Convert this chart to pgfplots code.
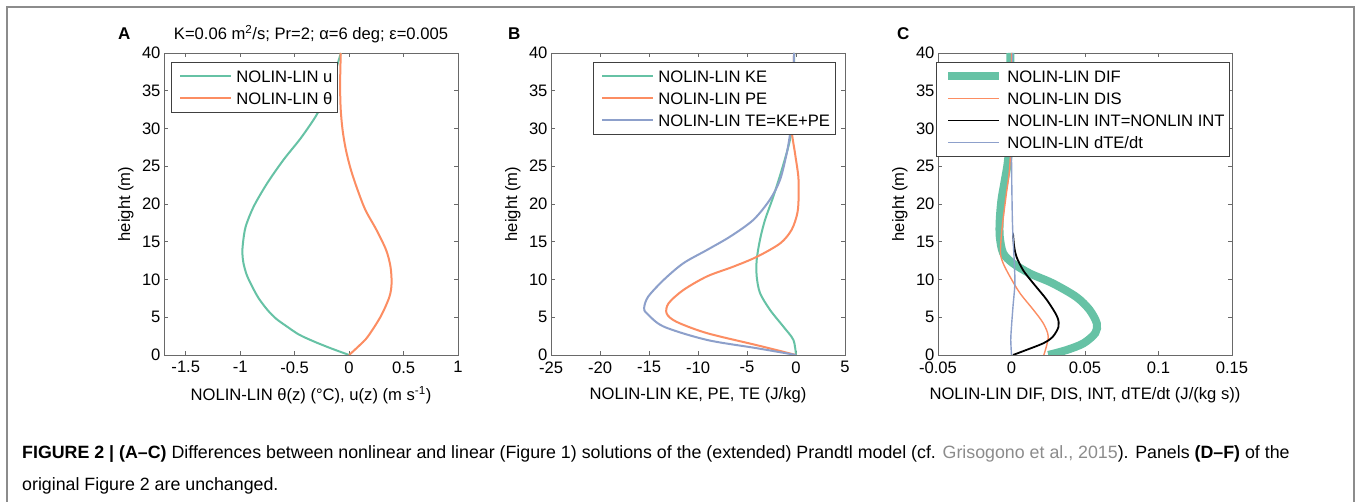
\documentclass[border=0pt]{standalone}
\usepackage{fontspec}
\setmainfont{Liberation Sans}
\usepackage{pgfplots}
\pgfplotsset{compat=1.18}
\definecolor{cgreen}{RGB}{102,194,165}
\definecolor{corange}{RGB}{252,141,98}
\definecolor{cblue}{RGB}{141,160,203}
\definecolor{boxgray}{RGB}{105,105,105}
\newcommand{\fs}{\fontsize{16.6}{19.5}\selectfont}
\pgfplotsset{
  mstyle/.style={
    scale only axis, width=294pt, height=302pt,
    ymin=0, ymax=40, ytick={0,5,...,40},
    yticklabels={0,5,10,15,20,25,30,35,40},
    tick align=inside, major tick length=4pt,
    axis line style={boxgray, line width=0.8pt},
    tick style={boxgray, line width=0.6pt},
    ticklabel style={font=\fs},
    xticklabel style={yshift=-3pt},
    every axis y label/.style={at={(axis description cs:-0.13,0.5)}, rotate=90, anchor=center, font=\fs},
    every axis x label/.style={at={(axis description cs:0.5,-0.132)}, anchor=center, font=\fs},
    every axis title/.style={at={(axis description cs:0.5,1)}, anchor=base, yshift=13pt, font=\fs},
    ylabel={height (m)},
    legend cell align=left,
    legend style={draw=black!75, line width=0.8pt, fill=white, font=\fs,
      anchor=north west, inner xsep=3pt, inner ysep=3pt, row sep=0pt,
      nodes={inner sep=2pt, text height=15pt, text depth=3pt},
      /tikz/every odd column/.append style={column sep=0pt}},
    legend image code/.code={\path (0pt,0pt); \draw[#1] (5pt,0pt) -- (56pt,0pt); \path (58pt,0pt);},
    every axis plot/.append style={smooth, tension=0.5},
  }
}
\begin{document}
\begin{tikzpicture}
\useasboundingbox (0pt,0pt) rectangle (1357pt,502pt);
\fill[white] (0pt,0pt) rectangle (1357pt,502pt);
\draw[black!45, line width=1.5pt] (7pt,0pt) -- (7pt,495pt) -- (1354pt,495pt) -- (1354pt,0pt);

% Panel A
\begin{axis}[mstyle, at={(164pt,147pt)}, anchor=south west,
  xmin=-1.7, xmax=1, xtick={-1.5,-1,-0.5,0,0.5,1},
  xticklabels={-1.5,-1,-0.5,0,0.5,1},
  xlabel={NOLIN-LIN θ(z) (°C), u(z) (m s\textsuperscript{-1})},
  title={K=0.06 m\textsuperscript{2}/s; Pr=2; α=6 deg; ε=0.005},
  legend style={at={(0.024,0.970)}}]
\addplot[cgreen, line width=2pt] coordinates {
(0,0) (-0.17,0.9) (-0.32,1.77) (-0.46,2.7) (-0.57,3.76) (-0.67,4.8) (-0.75,5.97)
(-0.83,7.5) (-0.89,9.06) (-0.94,10.6) (-0.97,12.15) (-0.98,13.5) (-0.975,14.8)
(-0.95,17.0) (-0.875,19.7) (-0.75,22.8) (-0.6,25.9) (-0.445,28.7) (-0.307,31.6)
(-0.22,34) (-0.15,36.5) (-0.09,39.3) (-0.075,40)};
\addlegendentry{NOLIN-LIN u}
\addplot[corange, line width=2pt] coordinates {
(0,0) (0.09,1.2) (0.17,2.4) (0.29,5.1) (0.37,7.7) (0.39,9.5) (0.38,11.7)
(0.34,13.9) (0.25,16.6) (0.15,19.2) (0.077,21.9) (0.015,24.6) (-0.03,27.2)
(-0.06,29.8) (-0.077,32.5) (-0.083,35.6) (-0.08,38) (-0.077,40)};
\addlegendentry{NOLIN-LIN θ}
\end{axis}

% Panel B
\begin{axis}[mstyle, at={(551pt,147pt)}, anchor=south west,
  xmin=-25, xmax=5, xtick={-25,-20,...,5},
  xticklabels={-25,-20,-15,-10,-5,0,5},
  xlabel={NOLIN-LIN KE, PE, TE (J/kg)},
  legend style={at={(0.143,0.970)}}]
\addplot[cgreen, line width=2pt] coordinates {
(0,0) (-0.27,2.0) (-1.29,3.76) (-2.65,5.97) (-3.67,8.2) (-4.01,10.4) (-4.01,12.6)
(-3.67,15.3) (-3.16,17.9) (-2.31,21.0) (-1.46,24.5) (-0.78,27.6) (-0.44,29.8)
(-0.3,33) (-0.22,37) (-0.2,40)};
\addlegendentry{NOLIN-LIN KE}
\addplot[corange, line width=2pt] coordinates {
(0,0) (-4.0,1.3) (-9.1,2.9) (-12.2,4.4) (-13.2,5.5) (-13.0,6.85) (-11.5,8.6)
(-9.1,10.4) (-6.4,11.7) (-4.0,13.0) (-1.6,14.8) (-0.44,16.6) (0.14,18.8)
(0.27,21.0) (0.24,23.6) (-0.1,26.7) (-0.44,29.8) (-0.35,33) (-0.25,37) (-0.2,40)};
\addlegendentry{NOLIN-LIN PE}
\addplot[cblue, line width=2pt] coordinates {
(0,0) (-4.0,0.9) (-9.1,2.0) (-13.5,3.76) (-15.2,5.5) (-15.5,6.2) (-15.1,7.7)
(-13.5,9.95) (-11.5,12.15) (-9.1,13.9) (-6.7,15.7) (-4.35,17.9) (-2.65,20.6)
(-1.63,23.2) (-0.95,26.7) (-0.6,29.4) (-0.35,33) (-0.25,37) (-0.2,40)};
\addlegendentry{NOLIN-LIN TE=KE+PE}
\end{axis}

% Panel C
\begin{axis}[mstyle, at={(938pt,147pt)}, anchor=south west,
  xmin=-0.05, xmax=0.15, xtick={-0.05,0,0.05,0.1,0.15},
  xticklabels={-0.05,0,0.05,0.1,0.15},
  xlabel={NOLIN-LIN DIF, DIS, INT, dTE/dt (J/(kg s))},
  legend style={at={(-0.007,0.970)}}]
\addplot[cgreen, line width=8pt] coordinates {
(0.025,0) (0.0375,0.66) (0.049,1.55) (0.057,2.9) (0.058,4.2) (0.053,6.0)
(0.044,7.7) (0.028,9.5) (0.0125,10.8) (0.001,12.15) (-0.0057,13.5) (-0.008,15.7)
(-0.008,17.9) (-0.0068,20.6) (-0.0045,23.2) (-0.0023,25.9) (-0.001,30)
(-0.0007,35) (-0.0007,40)};
\addlegendentry{NOLIN-LIN DIF}
\addplot[corange, line width=1.4pt] coordinates {
(0.022,0) (0.025,2.4) (0.0216,4.2) (0.0148,6.0) (0.0057,8.2) (-0.0011,10.4)
(-0.0057,12.15) (-0.0075,13.5) (-0.0068,16.1) (-0.0052,18.8) (-0.0034,21.5)
(-0.0016,24.1) (-0.0007,26.7) (0,32) (0,40)};
\addlegendentry{NOLIN-LIN DIS}
\addplot[black, line width=1.8pt] coordinates {
(0.001,0) (0.010,0.66) (0.0216,1.55) (0.028,2.4) (0.032,3.76) (0.031,5.1)
(0.024,7.3) (0.0148,9.5) (0.008,11.2) (0.0034,13.0) (0.0018,14.4) (0.001,16.1)};
\addlegendentry{NOLIN-LIN INT=NONLIN INT}
\addplot[cblue, line width=1.4pt] coordinates {
(0,0) (-0.0005,2) (0,3.8) (0.001,6.4) (0.0023,9.5) (0.0018,12.6) (0.001,15.7)
(0.0005,18.8) (0,26.7) (0.0005,35) (0.0007,40)};
\addlegendentry{NOLIN-LIN dTE/dt}
\end{axis}

\node[anchor=base west, font=\fontsize{17}{20}\selectfont\bfseries, inner sep=0pt] at (118pt,462pt) {A};
\node[anchor=base west, font=\fontsize{17}{20}\selectfont\bfseries, inner sep=0pt] at (508pt,462pt) {B};
\node[anchor=base west, font=\fontsize{17}{20}\selectfont\bfseries, inner sep=0pt] at (897pt,462pt) {C};

\node[anchor=base west, inner sep=0pt, font=\fontsize{17.8}{21}\selectfont] at (22pt,43pt) {\textbf{FIGURE 2 \textbar{} (A–C)} Differences between nonlinear and linear (Figure 1) solutions of the (extended) Prandtl model (cf. \textcolor{black!45}{Grisogono et al., 2015}). Panels \textbf{(D–F)} of the};
\node[anchor=base west, inner sep=0pt, font=\fontsize{17.8}{21}\selectfont] at (22pt,11pt) {original Figure 2 are unchanged.};
\end{tikzpicture}
\end{document}
